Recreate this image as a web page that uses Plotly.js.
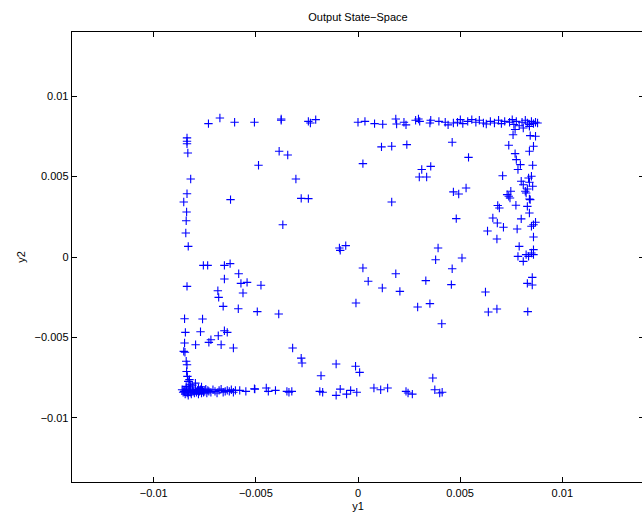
<!DOCTYPE html>
<html>
<head>
<meta charset="utf-8">
<script src="https://cdn.plot.ly/plotly-3.0.1.min.js"></script>
<style>html,body{margin:0;padding:0;overflow:hidden;background:#fff;}#chart{width:644px;height:517px;}</style>
</head>
<body>
<div id="chart"></div>
<script>
// Output state-space samples (y1, y2)
const topY1 = [-0.00732,-0.00676,-0.00604,-0.00507,-0.00376,-0.00376,-0.00243,-0.00233,-0.00207,0.00000,0.00034,0.00081,0.00121,0.00185,0.00189,0.00225,0.00235,0.00282,0.00296,0.00302,0.00352,0.00356,0.00396,0.00427,0.00441,0.00467,0.00487,0.00501,0.00513,0.00537,0.00557,0.00577,0.00594,0.00614,0.00628,0.00648,0.00668,0.00688,0.00702,0.00718,0.00742,0.00755,0.00763,0.00775,0.00789,0.00803,0.00819,0.00829,0.00839,0.00849,0.00859,0.00869,0.00879,0.00769,0.00809,0.00839];
const topY2 = [0.00830,0.00865,0.00838,0.00838,0.00859,0.00851,0.00844,0.00834,0.00855,0.00838,0.00844,0.00830,0.00826,0.00859,0.00828,0.00838,0.00822,0.00851,0.00859,0.00844,0.00834,0.00851,0.00844,0.00838,0.00822,0.00834,0.00838,0.00855,0.00830,0.00844,0.00855,0.00838,0.00851,0.00834,0.00828,0.00844,0.00834,0.00851,0.00830,0.00844,0.00838,0.00855,0.00824,0.00844,0.00817,0.00838,0.00851,0.00834,0.00824,0.00844,0.00830,0.00838,0.00834,0.00793,0.00803,0.00813];

const leftY1 = [-0.00837,-0.00837,-0.00837,-0.00833,-0.00819,-0.00837,-0.00853,-0.00839,-0.00841,-0.00843,-0.00831,-0.00837,-0.00849,-0.00845,-0.00849,-0.00853,-0.00847,-0.00841,-0.00837,-0.00839,-0.00835,-0.00831,-0.00825,-0.00841,-0.00821];
const leftY2 = [0.00741,0.00720,0.00705,0.00647,0.00485,0.00394,0.00342,0.00280,0.00226,0.00149,0.00066,-0.00183,-0.00384,-0.00469,-0.00535,-0.00587,-0.00593,-0.00649,-0.00670,-0.00712,-0.00743,-0.00774,-0.00763,-0.00805,-0.00795];

const bottomY1 = [-0.00579,-0.00549,-0.00505,-0.00449,-0.00439,-0.00404,-0.00348,-0.00338,-0.00324,-0.00187,-0.00173,-0.00107,-0.00087,-0.00056,-0.00036,-0.00006,0.00078,0.00111,0.00145,0.00235,0.00245,0.00266,0.00376,0.00400,0.00412,
 -0.00861,-0.00856,-0.00851,-0.00846,-0.00841,-0.00836,-0.00831,-0.00826,-0.00821,-0.00816,-0.00811,-0.00806,-0.00801,-0.00796,-0.00791,-0.00786,-0.00781,-0.00776,-0.00771,-0.00766,-0.00761,-0.00756,-0.00750,-0.00745,-0.00740,-0.00735,-0.00730,-0.00720,-0.00710,-0.00700,-0.00690,-0.00680,-0.00670,-0.00660,-0.00650,-0.00640,-0.00630,-0.00620,-0.00610,-0.00600,-0.00851,-0.00841,-0.00831,-0.00821,-0.00811,-0.00796,-0.00781,-0.00766];
const bottomY2 = [-0.00830,-0.00836,-0.00822,-0.00815,-0.00836,-0.00830,-0.00836,-0.00842,-0.00836,-0.00836,-0.00842,-0.00861,-0.00822,-0.00853,-0.00830,-0.00842,-0.00815,-0.00826,-0.00815,-0.00836,-0.00846,-0.00853,-0.00826,-0.00846,-0.00842,
 -0.00826,-0.00842,-0.00836,-0.00853,-0.00830,-0.00846,-0.00836,-0.00822,-0.00842,-0.00853,-0.00830,-0.00836,-0.00846,-0.00826,-0.00842,-0.00830,-0.00853,-0.00836,-0.00826,-0.00846,-0.00830,-0.00842,-0.00836,-0.00822,-0.00846,-0.00830,-0.00836,-0.00842,-0.00826,-0.00836,-0.00846,-0.00830,-0.00822,-0.00842,-0.00836,-0.00830,-0.00836,-0.00826,-0.00842,-0.00830,-0.00836,-0.00815,-0.00861,-0.00808,-0.00797,-0.00785,-0.00815,-0.00808,-0.00820];

const innerY1 = [-0.00507,-0.00487,-0.00386,-0.00344,-0.00304,-0.00243,-0.00624,-0.00278,-0.00368,-0.00060,0.00024,0.00115,0.00239,0.00165,0.00312,0.00336,0.00356,0.00300,0.00165,0.00467,0.00541,0.00461,0.00529,0.00493,0.00481,0.00634,0.00712,0.00680,0.00660,0.00684,0.00692,0.00708,0.00759,0.00738,0.00769,0.00775,0.00795,0.00783,0.00799,0.00809,0.00819,0.00823,0.00738,0.00748,0.00730,0.00744,0.00773,0.00799,0.00779,0.00789,0.00783,0.00809,0.00823,0.00835,0.00849,0.00859,0.00859,0.00859,0.00869,0.00839,0.00839,0.00829,0.00849,0.00855,0.00839,0.00859,0.00869,0.00843,0.00835,0.00855,0.00829,0.00839,0.00843,0.00849,0.00859,0.00682,0.00509,0.00380,0.00392,-0.00087,-0.00091,-0.00010,0.00024,0.00050,0.00119,0.00205,0.00185,0.00292,0.00332,0.00352,0.00410,0.00461,0.00457,0.00624,0.00638,0.00680,0.00829,0.00853,0.00853,0.00831,
 -0.00771,-0.00736,-0.00654,-0.00626,-0.00757,-0.00654,-0.00584,-0.00543,-0.00475,-0.00573,-0.00686,-0.00563,-0.00682,-0.00660,-0.00586,-0.00493,-0.00388,-0.00761,-0.00640,-0.00654,-0.00684,-0.00720,-0.00730,-0.00795,-0.00610,-0.00670,-0.00278,-0.00320,-0.00274,-0.00181,-0.00107,0.00008,-0.00012,0.00366];
const innerY2 = [0.00571,0.00658,0.00635,0.00485,0.00363,0.00357,0.00365,0.00201,0.00071,0.00581,0.00685,0.00699,0.00689,0.00544,0.00498,0.00564,0.00498,0.00342,0.00405,0.00620,0.00714,0.00429,0.00392,0.00239,0.00162,0.00185,0.00112,0.00243,0.00320,0.00305,0.00506,0.00761,0.00695,0.00643,0.00606,0.00575,0.00544,0.00471,0.00450,0.00409,0.00398,0.00378,0.00409,0.00388,0.00367,0.00322,0.00237,0.00174,0.00066,0.00004,-0.00027,0.00015,0.00004,0.00025,0.00015,0.00046,0.00124,0.00216,0.00361,0.00274,0.00315,0.00502,0.00571,0.00658,0.00689,0.00751,0.00755,0.00492,0.00440,0.00423,0.00465,0.00357,0.00191,0.00201,0.00212,-0.00006,-0.00017,0.00056,0.00041,0.00056,-0.00286,-0.00068,-0.00151,-0.00193,-0.00214,-0.00104,-0.00311,-0.00147,-0.00290,-0.00415,-0.00073,-0.00172,-0.00218,-0.00342,-0.00324,-0.00164,-0.00127,-0.00174,-0.00340,-0.00465,
 -0.00052,-0.00052,-0.00041,-0.00052,-0.00137,-0.00104,-0.00158,-0.00176,-0.00164,-0.00210,-0.00224,-0.00251,-0.00307,-0.00322,-0.00340,-0.00355,-0.00386,-0.00469,-0.00459,-0.00490,-0.00515,-0.00531,-0.00546,-0.00566,-0.00546,-0.00629,-0.00566,-0.00660,-0.00739,-0.00666,-0.00718,-0.00680,-0.00753,-0.00780];

const y1 = [].concat(topY1, leftY1, bottomY1, innerY1);
const y2 = [].concat(topY2, leftY2, bottomY2, innerY2);

const tickVals = [-0.01, -0.005, 0, 0.005, 0.01];
const tickText = ['\u22120.01', '\u22120.005', '0', '0.005', '0.01'];

const font = {family: 'Liberation Sans, Arial, Helvetica, sans-serif', size: 11, color: '#000'};

const trace = {
  type: 'scatter', mode: 'markers', x: y1, y: y2,
  marker: {symbol: 'cross-thin', size: 6, color: '#0000ff', line: {color: '#0000ff', width: 1.1}},
  hoverinfo: 'none'
};

const axisBase = {
  range: [-0.014, 0.014], tickvals: tickVals, ticktext: tickText,
  ticks: 'inside', ticklen: 5, tickwidth: 1, tickcolor: '#000',
  showline: true, linecolor: '#000', linewidth: 1.3, mirror: 'ticks',
  showgrid: false, zeroline: false, tickfont: font, automargin: false
};

const layout = {
  width: 644, height: 517,
  margin: {l: 72, r: 0, t: 32, b: 35},
  paper_bgcolor: '#fff', plot_bgcolor: '#fff',
  showlegend: false, font: font,
  title: {text: 'Output State\u2212Space', font: font, x: 0.5, xref: 'paper', xanchor: 'center', y: 1 - 17.5/517, yref: 'container', yanchor: 'middle'},
  xaxis: Object.assign({}, axisBase, {title: {text: 'y1', font: font, standoff: 4}}),
  yaxis: Object.assign({}, axisBase, {title: {text: 'y2', font: font, standoff: 6}})
};

Plotly.newPlot('chart', [trace], layout, {staticPlot: true, displayModeBar: false});
</script>
</body>
</html>
